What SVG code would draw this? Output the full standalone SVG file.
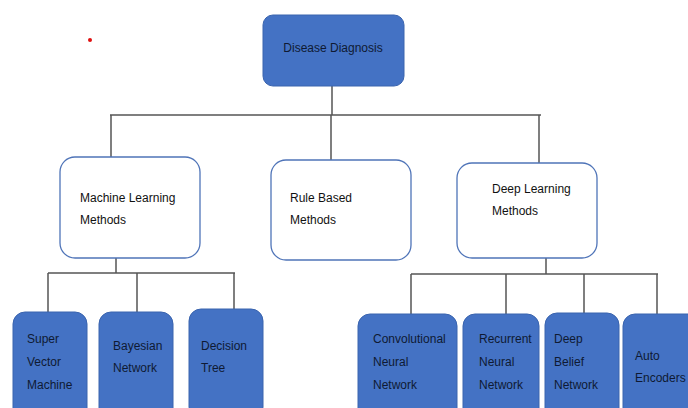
<svg xmlns="http://www.w3.org/2000/svg" width="688" height="408" viewBox="0 0 688 408">
<style>
.blue{fill:#4472C4;stroke:#3A64AE;stroke-width:1}
.white{fill:#fff;stroke:#4F74B8;stroke-width:1.3}
.t{font-family:"Liberation Sans",Arial,sans-serif;font-size:12px;fill:#111}
.tb{font-family:"Liberation Sans",Arial,sans-serif;font-size:12px;fill:#0F1A33}
.c line{stroke:#555;stroke-width:1.5}
</style>
<rect width="688" height="408" fill="#fff"/>
<circle cx="90" cy="40" r="2" fill="#e01010"/>
<g class="c" id="connectors">
<line x1="332" y1="86" x2="332" y2="115"/>
<line x1="110" y1="115" x2="541" y2="115"/>
<line x1="111" y1="115" x2="111" y2="157"/>
<line x1="331" y1="115" x2="331" y2="160"/>
<line x1="539" y1="115" x2="539" y2="163"/>
<line x1="116" y1="258" x2="116" y2="273"/>
<line x1="48" y1="273" x2="235" y2="273"/>
<line x1="48" y1="273" x2="48" y2="312"/>
<line x1="137" y1="273" x2="137" y2="312"/>
<line x1="234" y1="273" x2="234" y2="309"/>
<line x1="546" y1="258" x2="546" y2="274"/>
<line x1="411" y1="274" x2="658" y2="274"/>
<line x1="411" y1="274" x2="411" y2="314"/>
<line x1="506" y1="274" x2="506" y2="314"/>
<line x1="584" y1="274" x2="584" y2="313"/>
<line x1="657" y1="274" x2="657" y2="314"/>
</g>
<g id="disease-diagnosis">
<rect class="blue" x="263" y="15" width="141" height="71" rx="10"/>
<text class="tb" x="333" y="52" text-anchor="middle">Disease Diagnosis</text>
</g>
<g id="ml-methods">
<rect class="white" x="60" y="157" width="140" height="101" rx="15"/>
<text class="t" x="80" y="202">Machine Learning</text>
<text class="t" x="80" y="224">Methods</text>
</g>
<g id="rule-based">
<rect class="white" x="271" y="160" width="140" height="100" rx="15"/>
<text class="t" x="290" y="202">Rule Based</text>
<text class="t" x="290" y="224">Methods</text>
</g>
<g id="dl-methods">
<rect class="white" x="457" y="163" width="140" height="95" rx="15"/>
<text class="t" x="492" y="193">Deep Learning</text>
<text class="t" x="492" y="215">Methods</text>
</g>
<g id="svm">
<rect class="blue" x="13" y="312" width="74" height="110" rx="12"/>
<text class="tb" x="27" y="343">Super</text>
<text class="tb" x="27" y="366">Vector</text>
<text class="tb" x="27" y="389">Machine</text>
</g>
<g id="bayesian">
<rect class="blue" x="99" y="312" width="74" height="110" rx="12"/>
<text class="tb" x="113" y="350">Bayesian</text>
<text class="tb" x="113" y="372">Network</text>
</g>
<g id="decision-tree">
<rect class="blue" x="189" y="309" width="74" height="110" rx="12"/>
<text class="tb" x="201" y="350">Decision</text>
<text class="tb" x="201" y="372">Tree</text>
</g>
<g id="cnn">
<rect class="blue" x="358" y="314" width="99" height="110" rx="12"/>
<text class="tb" x="373" y="343">Convolutional</text>
<text class="tb" x="373" y="366">Neural</text>
<text class="tb" x="373" y="389">Network</text>
</g>
<g id="rnn">
<rect class="blue" x="463" y="314" width="76" height="110" rx="12"/>
<text class="tb" x="479" y="343">Recurrent</text>
<text class="tb" x="479" y="366">Neural</text>
<text class="tb" x="479" y="389">Network</text>
</g>
<g id="dbn">
<rect class="blue" x="545" y="313" width="74" height="110" rx="12"/>
<text class="tb" x="554" y="343">Deep</text>
<text class="tb" x="554" y="366">Belief</text>
<text class="tb" x="554" y="389">Network</text>
</g>
<g id="auto-encoders">
<rect class="blue" x="623" y="314" width="80" height="110" rx="12"/>
<text class="tb" x="635" y="360">Auto</text>
<text class="tb" x="635" y="382">Encoders</text>
</g>
</svg>
